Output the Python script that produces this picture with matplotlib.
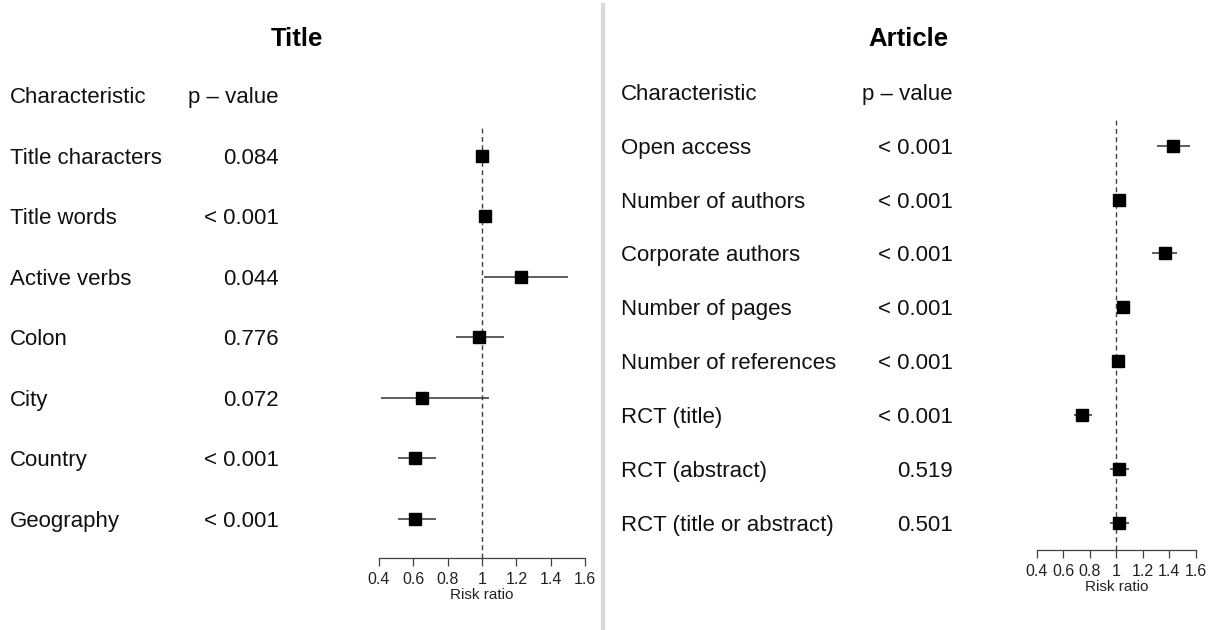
import matplotlib
matplotlib.use("Agg")
import matplotlib.pyplot as plt
from matplotlib.lines import Line2D
from matplotlib.transforms import blended_transform_factory, offset_copy

plt.rcParams['font.family'] = ['Liberation Sans', 'DejaVu Sans']

# Title characteristics
title_labels = ["Title characters", "Title words", "Active verbs", "Colon",
                "City", "Country", "Geography"]
title_pvals = ["0.084", "< 0.001", "0.044", "0.776", "0.072", "< 0.001", "< 0.001"]
title_rr = [1.00, 1.02, 1.23, 0.98, 0.65, 0.61, 0.61]
title_lo = [0.99, 1.01, 1.01, 0.85, 0.41, 0.51, 0.51]
title_hi = [1.01, 1.03, 1.50, 1.13, 1.04, 0.73, 0.73]

# Article characteristics
art_labels = ["Open access", "Number of authors", "Corporate authors", "Number of pages",
              "Number of references", "RCT (title)", "RCT (abstract)",
              "RCT (title or abstract)"]
art_pvals = ["< 0.001", "< 0.001", "< 0.001", "< 0.001", "< 0.001", "< 0.001",
             "0.519", "0.501"]
art_rr = [1.43, 1.02, 1.365, 1.05, 1.01, 0.74, 1.02, 1.02]
art_lo = [1.31, 1.01, 1.27, 1.04, 1.00, 0.68, 0.95, 0.95]
art_hi = [1.56, 1.03, 1.46, 1.06, 1.02, 0.82, 1.10, 1.10]

ticks = [0.4, 0.6, 0.8, 1.0, 1.2, 1.4, 1.6]
tick_labels = ["0.4", "0.6", "0.8", "1", "1.2", "1.4", "1.6"]

W, H = 1214, 630
fig = plt.figure(figsize=(W / 100, H / 100), dpi=100)


def forest(rect_px, ylim, labels, pvals, rr, lo, hi, title, title_x, lab_x, p_x):
    x0, y_top, x1, y_bot = rect_px
    ax = fig.add_axes([x0 / W, (H - y_bot) / H, (x1 - x0) / W, (y_bot - y_top) / H])
    rows = list(range(len(labels)))
    ax.set_xlim(0.4, 1.6)
    ax.set_ylim(*ylim)
    ax.axvline(1.0, color='0.25', lw=1, ls=(0, (3.5, 2.5)), zorder=1)
    ax.hlines(rows, lo, hi, color='0.2', lw=1.1, zorder=2)
    ax.plot(rr, rows, 's', color='black', ms=8.5, zorder=3)
    for s in ['top', 'right', 'left']:
        ax.spines[s].set_visible(False)
    ax.spines['bottom'].set_color('0.25')
    ax.spines['bottom'].set_linewidth(0.9)
    ax.set_yticks([])
    ax.set_xticks(ticks)
    ax.set_xticklabels(tick_labels)
    ax.tick_params(axis='x', direction='out', length=6, width=0.9, color='0.25',
                   labelsize=11.5, pad=4, labelcolor='#222222')
    ax.set_xlabel("Risk ratio", fontsize=11, labelpad=1, color='#222222')

    # text rows share the data y of the marks; nudge down to sit on the marker centre
    tr = offset_copy(blended_transform_factory(fig.transFigure, ax.transData),
                     fig=fig, y=-2.5, units='dots')
    ax.text(lab_x / W, -1, "Characteristic", transform=tr, fontsize=16,
            ha='left', va='center', color='#111111')
    ax.text(p_x / W, -1, "p \u2013 value", transform=tr, fontsize=16,
            ha='right', va='center', color='#111111')
    for r, lab, p in zip(rows, labels, pvals):
        ax.text(lab_x / W, r, lab, transform=tr, fontsize=16, ha='left',
                va='center', color='#111111')
        ax.text(p_x / W, r, p, transform=tr, fontsize=16, ha='right',
                va='center', color='#111111')
    fig.text(title_x / W, 1 - 38.5 / H, title, fontsize=18.5, fontweight='bold',
             ha='center', va='center')
    return ax


# left panel: rows spaced ~60.5 px, first row at y=155.7
forest((379, 125, 585, 558), (6.65, -0.51), title_labels, title_pvals,
       title_rr, title_lo, title_hi, "Title", 297, 10, 279)
# right panel: rows spaced ~53.8 px, first row at y=145.7
forest((1036.7, 120, 1195.7, 550), (7.51, -0.48), art_labels, art_pvals,
       art_rr, art_lo, art_hi, "Article", 908, 621, 953)

# separator
fig.add_artist(Line2D([603 / W, 603 / W], [0, 1 - 5 / H], transform=fig.transFigure,
                      color='#d9d9d9', lw=3))

fig.savefig("out.png", dpi=100)
